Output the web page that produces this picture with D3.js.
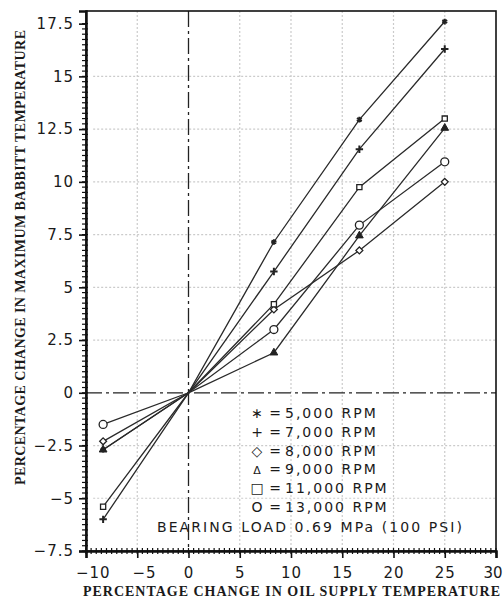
<!DOCTYPE html>
<html lang="en">
<head>
<meta charset="UTF-8">
<style>
  body { margin: 0; background: #fff; }
  svg { display: block; }
  text { font-family: "DejaVu Sans", sans-serif; fill: #1a1a1a; }
  .title { font-family: "Liberation Serif", serif; font-weight: bold; font-size: 14px; }
</style>
<script src="https://d3js.org/d3.v7.min.js"></script>
</head>
<body>
<svg id="chart" width="503" height="602"></svg>
<script>
// percentage change in oil supply temperature (x)
const oilChange = [-8.33, 0, 8.33, 16.67, 25];

// percentage change in maximum babbitt temperature, one array per shaft speed
const rise5000  = [-2.7, 0, 7.15, 12.95, 17.6];
const rise7000  = [-6.0, 0, 5.75, 11.55, 16.3];
const rise8000  = [-2.3, 0, 3.95, 6.75, 10.0];
const rise9000  = [-2.7, 0, 1.9, 7.45, 12.55];
const rise11000 = [-5.4, 0, 4.2, 9.75, 13.0];
const rise13000 = [-1.5, 0, 3.0, 7.95, 10.95];

const speedLabels = ["5,000 RPM", "7,000 RPM", "8,000 RPM", "9,000 RPM", "11,000 RPM", "13,000 RPM"];
const legendGlyphs = ["\u2217", "+", "\u25C7", "\u0394", "\u25A1", "O"];

const xTicks = [-10, -5, 0, 5, 10, 15, 20, 25, 30];
const yTicks = [-7.5, -5, -2.5, 0, 2.5, 5, 7.5, 10, 12.5, 15, 17.5];
const xGrid = [-5, 5, 10, 15, 20, 25];
const yGrid = [-5, -2.5, 2.5, 5, 7.5, 10, 12.5, 15];

const series = [rise5000, rise7000, rise8000, rise9000, rise11000, rise13000];

const width = 503, height = 602;
const margin = { top: 11, right: 7, bottom: 51, left: 86 };

const svg = d3.select("#chart");

const x = d3.scaleLinear().domain([-10, 30]).range([margin.left, width - margin.right]);
const y = d3.scaleLinear().domain([-7.5, 18.1]).range([height - margin.bottom, margin.top]);

const fmt = d => (d < 0 ? "\u2212" : "") + Math.abs(d);

// dotted grid
svg.append("g").selectAll("line").data(xGrid).join("line")
    .attr("x1", d => x(d)).attr("x2", d => x(d))
    .attr("y1", y.range()[1]).attr("y2", y.range()[0])
    .attr("stroke", "#cbcbcb").attr("stroke-width", 1.2)
    .attr("stroke-dasharray", "2,2");

svg.append("g").selectAll("line").data(yGrid).join("line")
    .attr("x1", x(-9.3)).attr("x2", x.range()[1])
    .attr("y1", d => y(d)).attr("y2", d => y(d))
    .attr("stroke", "#cbcbcb").attr("stroke-width", 1.2)
    .attr("stroke-dasharray", "2,2");

// dash-dot zero lines
svg.append("line")
    .attr("x1", x(0)).attr("x2", x(0))
    .attr("y1", y.range()[1]).attr("y2", y.range()[0])
    .attr("stroke", "#222").attr("stroke-width", 1.3)
    .attr("stroke-dasharray", "16,4,3,4");
svg.append("line")
    .attr("x1", x.range()[0]).attr("x2", x.range()[1])
    .attr("y1", y(0)).attr("y2", y(0))
    .attr("stroke", "#222").attr("stroke-width", 1.3)
    .attr("stroke-dasharray", "16,4,3,4");

// frame
svg.append("rect")
    .attr("x", x.range()[0]).attr("y", y.range()[1])
    .attr("width", x.range()[1] - x.range()[0])
    .attr("height", y.range()[0] - y.range()[1])
    .attr("fill", "none").attr("stroke", "#111").attr("stroke-width", 1.6);

// minor ticks
svg.append("g").selectAll("line").data(d3.range(-7.5, 17.6, 0.25)).join("line")
    .attr("x1", x.range()[0] - 4).attr("x2", x.range()[0] + 2)
    .attr("y1", d => y(d)).attr("y2", d => y(d))
    .attr("stroke", "#111").attr("stroke-width", 1.2);
svg.append("g").selectAll("line").data(d3.range(-10, 30.1, 0.5)).join("line")
    .attr("x1", d => x(d)).attr("x2", d => x(d))
    .attr("y1", y.range()[0] - 3).attr("y2", y.range()[0] + 3)
    .attr("stroke", "#111").attr("stroke-width", 1.2);

// axes
const yAxis = svg.append("g")
    .attr("transform", `translate(${margin.left},0)`)
    .call(d3.axisLeft(y).tickValues(yTicks).tickSize(7).tickPadding(5).tickFormat(fmt));
const xAxis = svg.append("g")
    .attr("transform", `translate(0,${height - margin.bottom})`)
    .call(d3.axisBottom(x).tickValues(xTicks).tickSize(7).tickPadding(9).tickFormat(fmt));

[yAxis, xAxis].forEach(g => {
    g.select(".domain").attr("stroke", "#111").attr("stroke-width", 2.5);
    g.selectAll(".tick line").attr("stroke", "#111").attr("stroke-width", 1.6);
    g.selectAll("text").attr("font-family", "DejaVu Sans").attr("font-size", 15)
        .attr("fill", "#1a1a1a").attr("letter-spacing", 1);
});

// x labels: centre the digits on the tick, the minus hangs to the left
const probe = svg.append("text").attr("font-size", 15).attr("letter-spacing", 1).text("\u2212");
const minusW = probe.node().getComputedTextLength();
probe.remove();
xAxis.selectAll(".tick text").attr("dx", d => d < 0 ? minusW / 2 : 0);
// last label sits against the page edge
xAxis.selectAll(".tick text").filter(d => d === 30)
    .attr("text-anchor", "end").attr("letter-spacing", 0).attr("dx", 6);

// series lines
const line = d3.line().x((d, i) => x(oilChange[i])).y(d => y(d));
svg.append("g").selectAll("path").data(series).join("path")
    .attr("d", line)
    .attr("fill", "none").attr("stroke", "#2a2a2a").attr("stroke-width", 1.3);

// markers
const markerStyle = [
    { type: d3.symbolAsterisk, size: 22, fill: "none", sw: 2 },
    { type: d3.symbolPlus, size: 20, fill: "none", sw: 2 },
    { type: d3.symbolDiamond2, size: 30, fill: "#fff", sw: 1.3 },
    { type: d3.symbolTriangle, size: 26, fill: "#222", sw: 1 },
    { type: d3.symbolSquare2, size: 34, fill: "#fff", sw: 1.3 },
    { type: d3.symbolCircle, size: 50, fill: "#fff", sw: 1.3 }
];

series.forEach((vals, s) => {
    const st = markerStyle[s];
    const pts = vals.map((v, i) => ({ x: oilChange[i], y: v })).filter(p => p.x !== 0);
    svg.append("g").selectAll("path").data(pts).join("path")
        .attr("transform", p => `translate(${x(p.x)},${y(p.y)})`)
        .attr("d", d3.symbol().type(st.type).size(st.size))
        .attr("fill", st.fill).attr("stroke", "#222").attr("stroke-width", st.sw);
});

// legend
const legend = svg.append("g").attr("font-size", 14);
speedLabels.forEach((lab, i) => {
    const yy = 418 + i * 18.8;
    legend.append("text").attr("x", 257).attr("y", yy).attr("text-anchor", "middle")
        .attr("font-size", i === 3 ? 11 : 14).text(legendGlyphs[i]);
    legend.append("text").attr("x", 275).attr("y", yy).attr("text-anchor", "middle").text("=");
    legend.append("text").attr("x", 285).attr("y", yy).attr("letter-spacing", 2).text(lab);
});
legend.append("text").attr("x", 157).attr("y", 532)
    .attr("textLength", 305).attr("lengthAdjust", "spacing")
    .text("BEARING LOAD 0.69 MPa (100 PSI)");

// axis titles
svg.append("text").attr("class", "title")
    .attr("x", 83).attr("y", 596)
    .attr("textLength", 417).attr("lengthAdjust", "spacing")
    .text("PERCENTAGE CHANGE IN OIL SUPPLY TEMPERATURE");
svg.append("text").attr("class", "title")
    .attr("transform", "translate(25,485) rotate(-90)")
    .attr("textLength", 455).attr("lengthAdjust", "spacing")
    .text("PERCENTAGE CHANGE IN MAXIMUM BABBITT TEMPERATURE");
</script>
</body>
</html>
